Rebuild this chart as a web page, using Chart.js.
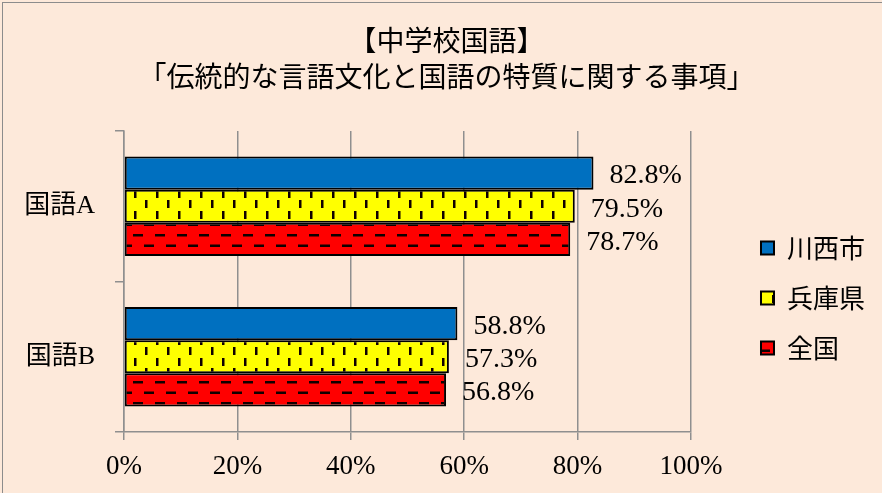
<!DOCTYPE html>
<html lang="ja">
<head>
<meta charset="utf-8">
<title>中学校国語</title>
<script src="https://cdn.jsdelivr.net/npm/chart.js@4/dist/chart.umd.min.js"></script>
<style>
  html, body { margin: 0; padding: 0; }
  body { width: 882px; height: 493px; overflow: hidden; background: #fde9da; position: relative; }
  #frame { position: absolute; left: 2px; top: 2px; width: 900px; height: 520px; border: 1.5px solid #8c8c8c; box-sizing: border-box; }
  #chart { position: absolute; left: 0; top: 0; }
</style>
</head>
<body>
<div id="frame"></div>
<canvas id="chart" width="882" height="493"></canvas>
<script>
const categories = ["国語A", "国語B"];
const seriesNames = ["川西市", "兵庫県", "全国"];
const kawanishi = [82.8, 58.8];
const hyogo = [79.5, 57.3];
const zenkoku = [78.7, 56.8];
const xTicks = [0, 20, 40, 60, 80, 100];
const titleLines = ["【中学校国語】", "「伝統的な言語文化と国語の特質に関する事項」"];

const SERIF = '"Liberation Serif", "Noto Sans CJK JP", serif';
const GOTHIC = '"Noto Sans CJK JP", sans-serif';
const GRID = "#8f8f8f";

// small tiled fills for the hatched bars
function makePattern(w, h, bg, draw) {
  const c = document.createElement("canvas");
  c.width = w;
  c.height = h;
  const g = c.getContext("2d");
  g.fillStyle = bg;
  g.fillRect(0, 0, w, h);
  g.fillStyle = "#100000";
  draw(g);
  return g.createPattern(c, "repeat");
}

const ctx = document.getElementById("chart").getContext("2d");

const yellowDashes = makePattern(22, 21, "#ffff00", g => {
  g.fillRect(2, 1, 2.5, 8);
  g.fillRect(13, 11, 2.5, 8);
});
const redDashes = makePattern(22, 21, "#ff0000", g => {
  g.fillRect(1, 3, 10, 2.5);
  g.fillRect(12, 13.5, 10, 2.5);
});

// value text to the right of every bar
const barLabels = {
  id: "barLabels",
  afterDatasetsDraw(chart) {
    const c = chart.ctx;
    c.save();
    c.font = "28px " + SERIF;
    c.fillStyle = "#000";
    c.textAlign = "left";
    c.textBaseline = "middle";
    chart.data.datasets.forEach((ds, i) => {
      chart.getDatasetMeta(i).data.forEach((bar, j) => {
        c.fillText(ds.data[j].toFixed(1) + "%", bar.x + 16, bar.y + 3);
      });
    });
    c.restore();
  }
};

new Chart(ctx, {
  type: "bar",
  data: {
    labels: categories,
    datasets: [
      { label: seriesNames[0], data: kawanishi, backgroundColor: "#0070c0" },
      { label: seriesNames[1], data: hyogo, backgroundColor: yellowDashes },
      { label: seriesNames[2], data: zenkoku, backgroundColor: redDashes }
    ].map(ds => Object.assign(ds, {
      borderColor: "#000",
      borderWidth: 2,
      borderSkipped: false,
      categoryPercentage: 0.66,
      barPercentage: 1
    }))
  },
  options: {
    indexAxis: "y",
    responsive: false,
    animation: false,
    layout: { padding: { left: 18, right: 7, top: 0, bottom: 0 } },
    scales: {
      x: {
        min: xTicks[0],
        max: xTicks[xTicks.length - 1],
        afterBuildTicks(scale) {
          scale.ticks = xTicks.map(v => ({ value: v }));
        },
        afterFit(scale) { scale.height = 61; },
        grid: { color: GRID, lineWidth: 1.5, tickLength: 8 },
        border: { color: GRID, width: 1.5 },
        ticks: {
          color: "#000",
          padding: 11,
          font: { family: SERIF, size: 27 },
          callback: v => v + "%"
        }
      },
      y: {
        afterFit(scale) { scale.width = 106; },
        grid: { drawOnChartArea: false, color: GRID, lineWidth: 1.5, tickLength: 9, offset: true },
        border: { color: GRID, width: 1.5 },
        ticks: { color: "#000", padding: 20, font: { family: SERIF, size: 26 } }
      },
      // empty right-hand axis keeps the legend away from the plot
      gap: {
        type: "linear",
        position: "right",
        display: true,
        afterFit(scale) { scale.width = 46; },
        grid: { display: false, drawTicks: false },
        border: { display: false },
        ticks: { display: false }
      }
    },
    plugins: {
      title: {
        display: true,
        text: titleLines,
        color: "#000",
        font: { family: GOTHIC, size: 28, weight: "normal", lineHeight: 36 / 28 },
        padding: { top: 22, bottom: 37 }
      },
      legend: {
        position: "right",
        title: { display: true, text: "", font: { size: 10, lineHeight: 1 }, padding: { top: 0, bottom: 93 } },
        labels: {
          boxWidth: 13,
          boxHeight: 13,
          padding: 24,
          color: "#000",
          font: { family: GOTHIC, size: 26 }
        }
      },
      tooltip: { enabled: false }
    }
  },
  plugins: [barLabels]
});
</script>
</body>
</html>
